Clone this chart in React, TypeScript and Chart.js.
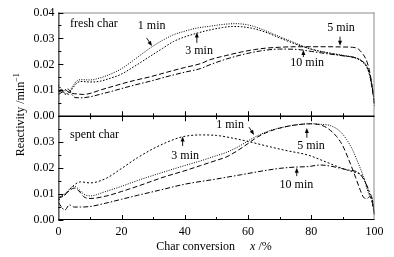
import React, { useEffect, useRef } from 'react';
import { Chart, registerables } from 'chart.js';

Chart.register(...registerables);

// ---------- data: fresh char (top panel) ----------
const fresh1X = [0, 1, 2, 3, 4.5, 6, 7.5, 10, 13.2, 16, 19.5, 24, 29, 33, 36.4, 40, 43.8, 48, 52, 56, 60, 64, 68, 72, 76, 80, 85, 90, 94, 96, 97.5, 98.5, 99.2, 99.7, 100];
const fresh1Y = [0.0120, 0.0105, 0.0090, 0.0088, 0.0115, 0.0138, 0.0141, 0.0140, 0.0148, 0.0160, 0.0180, 0.0218, 0.0263, 0.0293, 0.0314, 0.0328, 0.0340, 0.0347, 0.0354, 0.0357, 0.0352, 0.0337, 0.0317, 0.0297, 0.0277, 0.0258, 0.0245, 0.0235, 0.0226, 0.0214, 0.0195, 0.0162, 0.0120, 0.0080, 0.0045];

const fresh3X = [0, 1, 2, 3, 4.5, 6, 7.5, 10, 13.2, 16, 19.5, 24, 29, 33, 36.4, 40, 43.8, 48, 52, 55, 58, 62, 66, 70, 74, 78, 82, 86, 90, 94, 96, 97.5, 98.5, 99.2, 99.7, 100];
const fresh3Y = [0.0115, 0.0100, 0.0086, 0.0084, 0.0108, 0.0130, 0.0134, 0.0132, 0.0135, 0.0145, 0.0160, 0.0192, 0.0231, 0.0262, 0.0288, 0.0306, 0.0320, 0.0333, 0.0342, 0.0346, 0.0345, 0.0337, 0.0322, 0.0302, 0.0283, 0.0266, 0.0253, 0.0243, 0.0234, 0.0224, 0.0211, 0.0190, 0.0155, 0.0112, 0.0075, 0.0042];

const fresh5X = [0, 1, 2, 3, 4.5, 6, 8, 10, 13, 18, 24, 29, 35, 40, 45, 48, 53, 58, 62, 66, 70, 75, 80, 85, 90, 93, 95, 96.3, 97.3, 98, 98.6, 99.1, 99.6, 100];
const fresh5Y = [0.0095, 0.0098, 0.0104, 0.0095, 0.0088, 0.0086, 0.0084, 0.0088, 0.0100, 0.0118, 0.0138, 0.0152, 0.0172, 0.0188, 0.0203, 0.0218, 0.0234, 0.0248, 0.0257, 0.0263, 0.0266, 0.0268, 0.0268, 0.0268, 0.0267, 0.0266, 0.0258, 0.0240, 0.0220, 0.0195, 0.0165, 0.0125, 0.0080, 0.0040];

const fresh10X = [0, 1.5, 3, 4.2, 5.3, 7, 10, 13, 18, 24, 29, 35, 40, 45, 48, 53, 58, 64, 70, 76, 80, 85, 90, 94, 96, 97.5, 98.5, 99.2, 99.7, 100];
const fresh10Y = [0.0085, 0.0095, 0.0105, 0.0085, 0.0072, 0.0071, 0.0075, 0.0084, 0.0100, 0.0120, 0.0135, 0.0155, 0.0170, 0.0184, 0.0199, 0.0220, 0.0237, 0.0252, 0.0259, 0.0257, 0.0250, 0.0241, 0.0233, 0.0225, 0.0213, 0.0193, 0.0160, 0.0118, 0.0078, 0.0040];

// ---------- data: spent char (bottom panel) ----------
const spent1X = [0, 1, 2, 3, 4, 5, 6.5, 8, 10, 15, 20, 25, 32, 40, 45, 50, 53, 57, 60, 63, 67, 72, 76, 80, 83, 86, 89, 91.2, 93, 94.4, 96.5, 97.5, 98.3, 99.3, 100];
const spent1Y = [0.0080, 0.0090, 0.0100, 0.0112, 0.0125, 0.0130, 0.0118, 0.0100, 0.0093, 0.0110, 0.0130, 0.0152, 0.0180, 0.0210, 0.0228, 0.0248, 0.0260, 0.0283, 0.0305, 0.0325, 0.0345, 0.0360, 0.0368, 0.0371, 0.0369, 0.0364, 0.0343, 0.0310, 0.0272, 0.0232, 0.0167, 0.0125, 0.0098, 0.0080, 0.0020];

const spent3X = [0, 1, 2, 3, 5, 7, 10, 15, 20, 25, 30, 34, 39, 45, 50, 55, 60.6, 67, 72, 79, 85, 90.7, 94, 96, 97, 98, 99, 100];
const spent3Y = [0.0075, 0.0088, 0.0095, 0.0110, 0.0135, 0.0147, 0.0143, 0.0160, 0.0199, 0.0240, 0.0275, 0.0298, 0.0320, 0.0328, 0.0326, 0.0316, 0.0301, 0.0282, 0.0268, 0.0250, 0.0222, 0.0195, 0.0183, 0.0172, 0.0150, 0.0115, 0.0080, 0.0020];

const spent5X = [0, 1, 2, 3, 4, 5, 6.5, 8, 10, 15, 20, 25, 33.7, 40, 45, 50, 53.3, 57, 60, 63, 67, 72, 76, 80, 83, 85, 88, 90, 92, 94, 95.5, 96.5, 97.5, 98.5, 99.3, 100];
const spent5Y = [0.0085, 0.0092, 0.0098, 0.0108, 0.0118, 0.0123, 0.0112, 0.0090, 0.0083, 0.0092, 0.0110, 0.0130, 0.0167, 0.0190, 0.0210, 0.0230, 0.0244, 0.0270, 0.0295, 0.0320, 0.0343, 0.0360, 0.0368, 0.0371, 0.0366, 0.0355, 0.0322, 0.0285, 0.0228, 0.0165, 0.0115, 0.0088, 0.0082, 0.0090, 0.0070, 0.0020];

const spent10X = [0, 1, 2, 3.5, 5, 7, 10, 15, 20, 25, 32, 40, 50, 58, 65, 70, 75, 79, 83, 86, 89, 92, 94.4, 96, 97.5, 98.5, 99.3, 100];
const spent10Y = [0.0068, 0.0050, 0.0038, 0.0058, 0.0050, 0.0050, 0.0052, 0.0065, 0.0080, 0.0095, 0.0115, 0.0138, 0.0158, 0.0175, 0.0190, 0.0199, 0.0204, 0.0206, 0.0212, 0.0208, 0.0200, 0.0192, 0.0186, 0.0168, 0.0135, 0.0105, 0.0080, 0.0020];

// ---------- axis ticks ----------
const xTickLabels = [0, 20, 40, 60, 80, 100];
const yTickLabels = [0.0, 0.01, 0.02, 0.03, 0.04];

// ---------- annotations (data coordinates) ----------
const freshTexts = ['fresh char', '1 min', '3 min', '5 min', '10 min'];
const freshTextX = [3.7, 29.5, 44.5, 89.4, 78.7];
const freshTextY = [0.0355, 0.0348, 0.0254, 0.0341, 0.0206];
const freshArrows = [
  [27.9, 0.0302, 29.6, 0.0271],
  [43.8, 0.0283, 43.8, 0.0323],
  [89.1, 0.0307, 89.1, 0.0272],
  [77.5, 0.0228, 77.5, 0.0255],
];
const spentTexts = ['spent char', '3 min', '1 min', '5 min', '10 min'];
const spentTextX = [3.7, 40.1, 54.3, 79.9, 75.3];
const spentTextY = [0.0327, 0.0246, 0.0365, 0.0285, 0.0135];
const spentArrows = [
  [39.3, 0.0285, 39.3, 0.0322],
  [60.3, 0.0358, 61.9, 0.0328],
  [78.6, 0.0317, 78.6, 0.0355],
  [75.4, 0.0169, 75.4, 0.0201],
];

const FONT = '"Liberation Serif", "Times New Roman", Times, serif';

function drawArrow(ctx: CanvasRenderingContext2D, x1: number, y1: number, x2: number, y2: number) {
  const ang = Math.atan2(y2 - y1, x2 - x1);
  const hl = 5, hw = 2;
  ctx.beginPath();
  ctx.moveTo(x1, y1);
  ctx.lineTo(x2 - Math.cos(ang) * hl * 0.8, y2 - Math.sin(ang) * hl * 0.8);
  ctx.stroke();
  ctx.beginPath();
  ctx.moveTo(x2, y2);
  ctx.lineTo(x2 - Math.cos(ang) * hl - Math.sin(ang) * hw, y2 - Math.sin(ang) * hl + Math.cos(ang) * hw);
  ctx.lineTo(x2 - Math.cos(ang) * hl + Math.sin(ang) * hw, y2 - Math.sin(ang) * hl - Math.cos(ang) * hw);
  ctx.closePath();
  ctx.fill();
}

const framePlugin = {
  id: 'frame',
  afterDatasetsDraw(chart: any) {
    const ctx: CanvasRenderingContext2D = chart.ctx;
    const xs = chart.scales.x;
    const yt = chart.scales.yTop;
    const yb = chart.scales.yBot;
    const { left, right, top, bottom } = chart.chartArea;
    const mid = yt.getPixelForValue(0);
    ctx.save();
    // gray top/right borders
    ctx.strokeStyle = '#8a8a8a';
    ctx.lineWidth = 1;
    ctx.beginPath();
    ctx.moveTo(left, top + 0.5);
    ctx.lineTo(right, top + 0.5);
    ctx.moveTo(right - 0.5, top);
    ctx.lineTo(right - 0.5, bottom);
    ctx.stroke();
    // black axes
    ctx.strokeStyle = '#000';
    ctx.beginPath();
    ctx.moveTo(left + 0.5, top);
    ctx.lineTo(left + 0.5, bottom);
    ctx.moveTo(left, bottom - 0.5);
    ctx.lineTo(right, bottom - 0.5);
    ctx.stroke();
    ctx.lineWidth = 1.3;
    ctx.beginPath();
    ctx.moveTo(left, mid);
    ctx.lineTo(right, mid);
    ctx.stroke();
    ctx.lineWidth = 1;
    // x ticks
    ctx.beginPath();
    for (let v = 10; v < 100; v += 10) {
      const px = Math.round(xs.getPixelForValue(v)) + 0.5;
      const len = v % 20 === 0 ? 5 : 3;
      ctx.moveTo(px, bottom);
      ctx.lineTo(px, bottom - len);
      ctx.moveTo(px, mid - len);
      ctx.lineTo(px, mid + len);
    }
    // y ticks
    for (const sc of [yt, yb]) {
      for (let k = 0; k <= 8; k++) {
        const v = k * 0.005;
        const py = Math.round(sc.getPixelForValue(v)) + 0.5;
        const len = k % 2 === 0 ? 5 : 3;
        ctx.moveTo(left, py);
        ctx.lineTo(left + len, py);
      }
    }
    ctx.stroke();

    // annotations
    ctx.fillStyle = '#000';
    ctx.font = `12px ${FONT}`;
    ctx.textBaseline = 'middle';
    const drawTexts = (sc: any, texts: string[], tx: number[], ty: number[]) => {
      texts.forEach((t, i) => {
        ctx.textAlign = i === 0 ? 'left' : 'center';
        ctx.fillText(t, xs.getPixelForValue(tx[i]), sc.getPixelForValue(ty[i]));
      });
    };
    drawTexts(yt, freshTexts, freshTextX, freshTextY);
    drawTexts(yb, spentTexts, spentTextX, spentTextY);
    ctx.lineWidth = 0.9;
    for (const a of freshArrows) drawArrow(ctx, xs.getPixelForValue(a[0]), yt.getPixelForValue(a[1]), xs.getPixelForValue(a[2]), yt.getPixelForValue(a[3]));
    for (const a of spentArrows) drawArrow(ctx, xs.getPixelForValue(a[0]), yb.getPixelForValue(a[1]), xs.getPixelForValue(a[2]), yb.getPixelForValue(a[3]));

    // x title
    ctx.textAlign = 'left';
    ctx.textBaseline = 'alphabetic';
    const p1 = 'Char conversion';
    const p3 = ' /%';
    ctx.font = `12px ${FONT}`;
    const w1 = ctx.measureText(p1).width;
    const w3 = ctx.measureText(p3).width;
    ctx.font = `italic 12px ${FONT}`;
    const w2 = ctx.measureText('x').width;
    const gap = 15;
    const total = w1 + gap + w2 + w3;
    let sx = (left + right) / 2 - 2.5 - total / 2;
    const by = chart.height - 7.5;
    ctx.font = `12px ${FONT}`;
    ctx.fillText(p1, sx, by);
    sx += w1 + gap;
    ctx.font = `italic 12px ${FONT}`;
    ctx.fillText('x', sx, by);
    sx += w2;
    ctx.font = `12px ${FONT}`;
    ctx.fillText(p3, sx, by);

    // y title
    ctx.save();
    ctx.translate(24, mid - 1.5);
    ctx.rotate(-Math.PI / 2);
    const m1 = 'Reactivity /min';
    const m2 = '\u22121';
    ctx.font = `12px ${FONT}`;
    const mw1 = ctx.measureText(m1).width;
    ctx.font = `8px ${FONT}`;
    const mw2 = ctx.measureText(m2).width;
    const st = -(mw1 + mw2) / 2;
    ctx.font = `12px ${FONT}`;
    ctx.fillText(m1, st, 0);
    ctx.font = `8px ${FONT}`;
    ctx.fillText(m2, st + mw1, -5);
    ctx.restore();

    ctx.restore();
  },
};

export default function App() {
  const ref = useRef<HTMLCanvasElement>(null);
  useEffect(() => {
    const canvas = ref.current;
    if (!canvas) return;
    const pts = (xv: number[], yv: number[]) => xv.map((x, i) => ({ x, y: yv[i] }));
    const ds = (label: string, xv: number[], yv: number[], axis: string, dash: number[]) => ({
      label,
      data: pts(xv, yv),
      yAxisID: axis,
      borderColor: '#000',
      borderWidth: 1,
      borderDash: dash,
      pointRadius: 0,
      fill: false,
      cubicInterpolationMode: 'monotone' as const,
    });
    const DOT1 = [1, 1.4];
    const DOT3 = [1.6, 1.6];
    const DASH5 = [5, 2.5];
    const DASHDOT10 = [5, 2, 1.5, 2];
    const fmt = (v: any) => Number(v).toFixed(2);
    const yTicks = { color: '#000', font: { family: FONT, size: 12 }, padding: 4, callback: fmt, autoSkip: false };
    const chart = new Chart(canvas, {
      type: 'line',
      data: {
        datasets: [
          ds('fresh 1 min', fresh1X, fresh1Y, 'yTop', DOT1),
          ds('fresh 3 min', fresh3X, fresh3Y, 'yTop', DOT3),
          ds('fresh 5 min', fresh5X, fresh5Y, 'yTop', DASH5),
          ds('fresh 10 min', fresh10X, fresh10Y, 'yTop', DASHDOT10),
          ds('spent 1 min', spent1X, spent1Y, 'yBot', DOT1),
          ds('spent 3 min', spent3X, spent3Y, 'yBot', [2, 2]),
          ds('spent 5 min', spent5X, spent5Y, 'yBot', DASH5),
          ds('spent 10 min', spent10X, spent10Y, 'yBot', DASHDOT10),
        ] as any,
      },
      options: {
        animation: false,
        responsive: false,
        devicePixelRatio: 1,
        layout: { padding: { left: 0, right: 19.5, top: 12.5, bottom: 0 } },
        plugins: { legend: { display: false }, tooltip: { enabled: false } },
        scales: {
          x: {
            type: 'linear',
            min: xTickLabels[0],
            max: xTickLabels[xTickLabels.length - 1],
            position: 'bottom',
            afterBuildTicks: (s: any) => { s.ticks = xTickLabels.map((v) => ({ value: v })); },
            ticks: { color: '#000', font: { family: FONT, size: 12 }, padding: 5, maxRotation: 0, autoSkip: false },
            grid: { display: false, drawTicks: false },
            border: { display: false },
            afterFit: (s: any) => { s.height = 37; },
          },
          yTop: {
            type: 'linear',
            min: 0,
            max: 0.04,
            position: 'left',
            stack: 'panels',
            stackWeight: 1,
            weight: 2,
            afterBuildTicks: (s: any) => { s.ticks = yTickLabels.map((v) => ({ value: v })); },
            ticks: yTicks,
            grid: { display: false, drawTicks: false },
            border: { display: false },
            afterFit: (s: any) => { s.width = 58.4; },
          },
          yBot: {
            type: 'linear',
            min: 0,
            max: 0.04,
            position: 'left',
            stack: 'panels',
            stackWeight: 1,
            weight: 1,
            afterBuildTicks: (s: any) => { s.ticks = yTickLabels.slice(0, -1).map((v) => ({ value: v })); },
            ticks: yTicks,
            grid: { display: false, drawTicks: false },
            border: { display: false },
            afterFit: (s: any) => { s.width = 58.4; },
          },
        } as any,
      },
      plugins: [framePlugin],
    });
    return () => chart.destroy();
  }, []);
  return (
    <div style={{ position: 'absolute', left: 0, top: 0, width: 394, height: 257, background: '#fff' }}>
      <canvas ref={ref} width={394} height={257} style={{ width: 394, height: 257, display: 'block' }} />
    </div>
  );
}
